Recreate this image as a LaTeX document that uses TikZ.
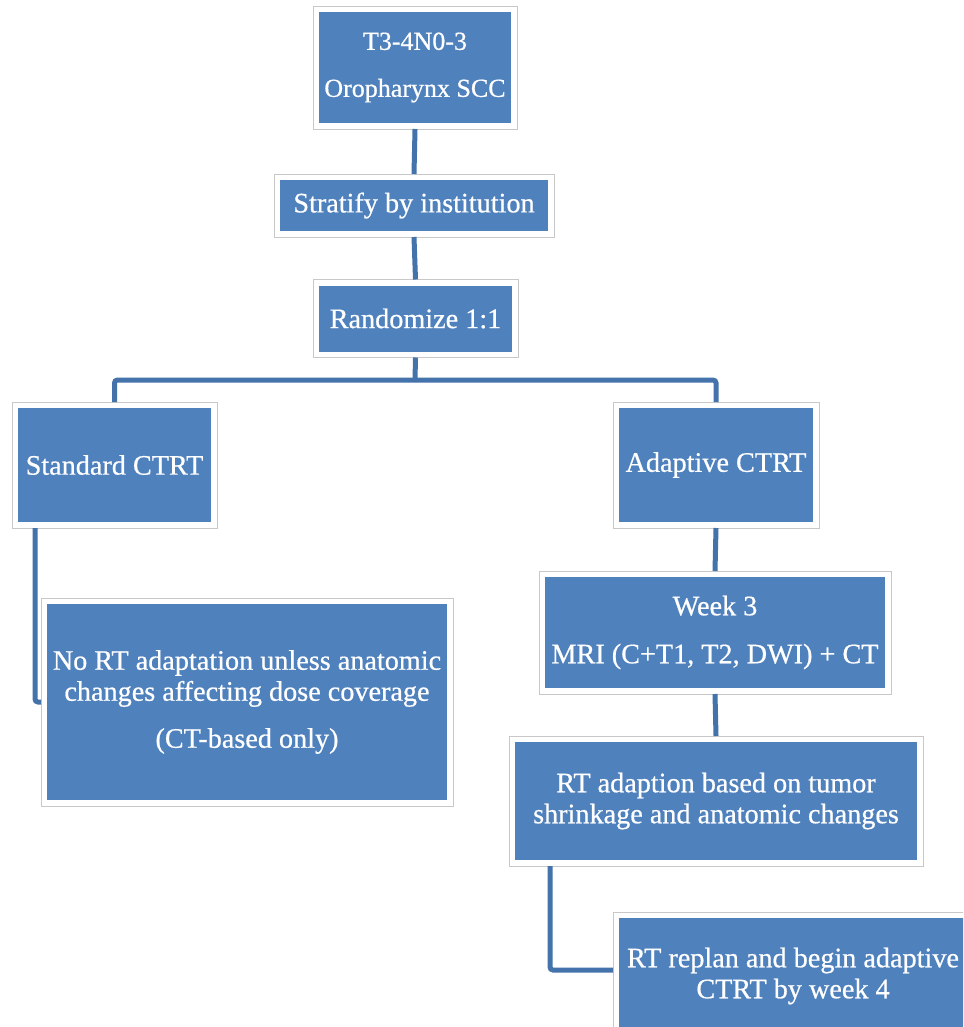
\documentclass[tikz,border=0pt]{standalone}
\usepackage{fontspec}
\setmainfont{Liberation Serif}
\newfontfamily\boxfont{Liberation Serif}[FakeBold=0.6]
\definecolor{boxblue}{RGB}{79,129,189}
\definecolor{lineblue}{RGB}{68,114,170}
\definecolor{edgegray}{RGB}{200,200,200}
\begin{document}
\begin{tikzpicture}[x=1pt,y=-1pt,
  box/.style={rectangle, draw=edgegray, line width=0.9pt, fill=white,
    inner sep=0pt, outer sep=0pt, align=center, text=white,
    font=\boxfont\fontsize{28.2}{31}\selectfont,
    path picture={\fill[boxblue] ([shift={(6pt,6pt)}]path picture bounding box.south west)
       rectangle ([shift={(-6pt,-6pt)}]path picture bounding box.north east);}},
  smalltext/.style={font=\boxfont\fontsize{26}{31}\selectfont},
  conn/.style={draw=lineblue, line width=5pt, rounded corners=3pt}]
\useasboundingbox (0,0) rectangle (963,1027);
\clip (0,0) rectangle (963,1027);
\node[box, smalltext, minimum width=204pt, minimum height=123pt] (top) at (415,67.5) {T3-4N0-3\\[16pt]Oropharynx SCC};
\node[box, minimum width=280pt, minimum height=63pt] (strat) at (414,205.5) {Stratify by institution};
\node[box, minimum width=205pt, minimum height=78pt] (rand) at (415.5,318.5) {Randomize 1:1};
\node[box, minimum width=205pt, minimum height=126pt] (std) at (114.5,465) {Standard CTRT};
\node[box, minimum width=206pt, minimum height=126pt] (adp) at (716,465) {Adaptive CTRT};
\node[box, minimum width=412pt, minimum height=208pt] (nort) at (247,702) {No RT adaptation unless anatomic\\changes affecting dose coverage\\[16pt](CT-based only)};
\node[box, minimum width=352pt, minimum height=123pt] (wk3) at (715,632.5) {Week 3\\[17pt]MRI (C+T1, T2, DWI) + CT};
\node[box, minimum width=414pt, minimum height=130pt] (rta) at (716,801) {RT adaption based on tumor\\shrinkage and anatomic changes};
\node[box, minimum width=360pt, minimum height=128pt] (rep) at (793,976) {RT replan and begin adaptive\\CTRT by week 4};
\coordinate (split) at (415,380);
\path[conn] (top.south) -- (strat.north);
\path[conn] (strat.south) -- (rand.north);
\path[conn] (rand.south) -- (split);
\path[conn] (split) -| (std.north);
\path[conn] (split) -| (adp.north);
\path[conn] (adp.south) -- (wk3.north);
\path[conn] (wk3.south) -- (rta.north);
\path[conn] (std.south west) ++(23,0) |- (nort.west);
\path[conn] (rta.south west) ++(41,0) |- ([yshift=6pt]rep.west);
\end{tikzpicture}
\end{document}
